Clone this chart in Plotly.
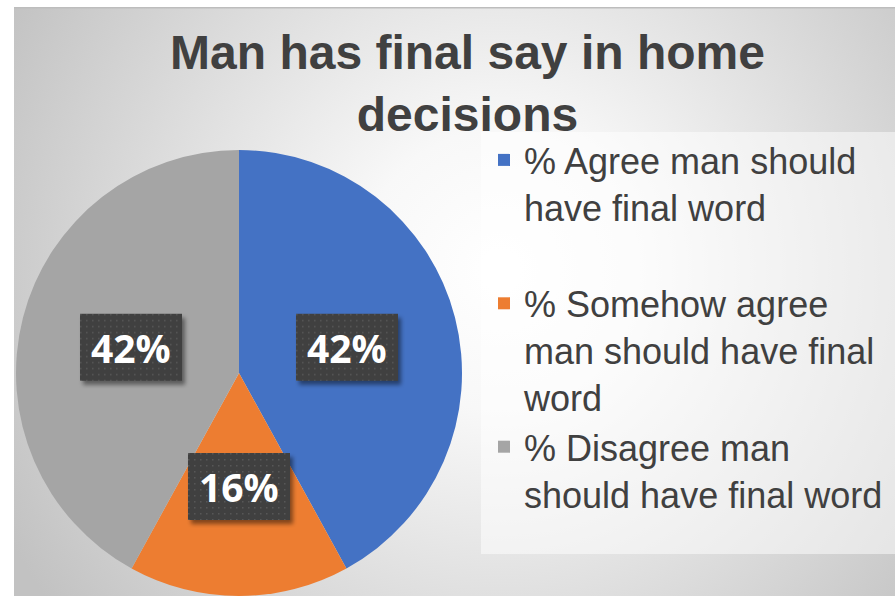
import base64
import math
import plotly.graph_objects as go

# ---- data -------------------------------------------------------------
chart_title = "Man has final say in home<br>decisions"
categories = [
    "% Agree man should<br>have final word<br> ",
    "% Somehow agree<br>man should have final<br>word",
    "% Disagree man<br>should have final word",
]
values = [42, 16, 42]
slice_colors = ["#4472C4", "#ED7D31", "#A5A5A5"]

# ---- page geometry ----------------------------------------------------
W, H = 895, 596
PIE_LEFT, PIE_RIGHT, PIE_TOP, PIE_BOTTOM = 15, 463, 150, 596
TEXT_COLOR = "#404040"


def svg_uri(svg: str) -> str:
    return "data:image/svg+xml;base64," + base64.b64encode(svg.encode()).decode()


# chart-area fill: radial grey gradient with a thin top rule
background_svg = f"""<svg xmlns="http://www.w3.org/2000/svg" width="{W}" height="{H}"
 viewBox="0 0 {W} {H}" preserveAspectRatio="none">
<defs><radialGradient id="g" gradientUnits="userSpaceOnUse" cx="500" cy="270" r="560">
<stop offset="0" stop-color="#ffffff"/><stop offset="0.25" stop-color="#f8f8f8"/>
<stop offset="1" stop-color="#c2c2c2"/></radialGradient></defs>
<rect x="0" y="0" width="{W}" height="{H}" fill="#ffffff"/>
<rect x="14" y="7" width="{W - 14}" height="{H - 7}" fill="url(#g)"/>
<rect x="14" y="7" width="{W - 14}" height="1.5" fill="#bdbdbd"/>
</svg>"""

# dark data-label plate with a dotted fill and a soft drop shadow
BOX_W, BOX_H, PAD = 102, 67, 8
IMG_W, IMG_H = BOX_W + 2 * PAD, BOX_H + 2 * PAD
label_box_svg = f"""<svg xmlns="http://www.w3.org/2000/svg" width="{IMG_W}" height="{IMG_H}"
 viewBox="0 0 {IMG_W} {IMG_H}" preserveAspectRatio="none">
<defs>
<filter id="s" x="-20%" y="-20%" width="140%" height="140%"><feGaussianBlur stdDeviation="2"/></filter>
<pattern id="d" width="6" height="6" patternUnits="userSpaceOnUse">
<rect width="6" height="6" fill="#404040"/><rect x="2" y="2" width="1.5" height="1.5" fill="#575757"/>
</pattern></defs>
<rect x="{PAD + 3}" y="{PAD + 4}" width="{BOX_W}" height="{BOX_H}" fill="#000" fill-opacity="0.45" filter="url(#s)"/>
<rect x="{PAD}" y="{PAD}" width="{BOX_W}" height="{BOX_H}" fill="url(#d)"/>
</svg>"""

fig = go.Figure(
    go.Pie(
        labels=categories,
        values=values,
        marker=dict(colors=slice_colors, line=dict(width=0)),
        sort=False,
        direction="clockwise",
        rotation=0,
        textinfo="none",
        hoverinfo="label+percent",
        domain=dict(
            x=[PIE_LEFT / W, PIE_RIGHT / W],
            y=[1 - PIE_BOTTOM / H, 1 - PIE_TOP / H],
        ),
    )
)

# data labels: placed halfway out along each slice's mid-angle
cx = (PIE_LEFT + PIE_RIGHT) / 2
cy = (PIE_TOP + PIE_BOTTOM) / 2
radius = min(PIE_RIGHT - PIE_LEFT, PIE_BOTTOM - PIE_TOP) / 2
total = sum(values)
images = [
    dict(
        source=svg_uri(background_svg), xref="paper", yref="paper",
        x=0, y=1, sizex=1, sizey=1, xanchor="left", yanchor="top",
        sizing="stretch", layer="below",
    )
]
annotations = []
cum = 0
for v in values:
    theta = 2 * math.pi * (cum + v / 2) / total
    cum += v
    px = cx + 0.5 * radius * math.sin(theta)
    py = cy - 0.5 * radius * math.cos(theta) + 2
    xp, yp = px / W, 1 - py / H
    images.append(
        dict(
            source=svg_uri(label_box_svg), xref="paper", yref="paper",
            x=xp, y=yp, sizex=IMG_W / W, sizey=IMG_H / H,
            xanchor="center", yanchor="middle", sizing="stretch", layer="above",
        )
    )
    annotations.append(
        dict(
            text=f"<b>{round(100 * v / total)}%</b>", x=xp, y=yp,
            xref="paper", yref="paper", showarrow=False,
            xanchor="center", yanchor="middle",
            font=dict(family="Open Sans", size=39, color="#ffffff"),
        )
    )

fig.update_layout(
    width=W,
    height=H,
    margin=dict(l=0, r=0, t=0, b=0),
    paper_bgcolor="#ffffff",
    title=dict(
        text=f"<b>{chart_title}</b>",
        x=467.5 / W, xanchor="center",
        y=1 - 69 / H, yanchor="top", yref="container",
        font=dict(family="Liberation Sans, Arial", size=48, color=TEXT_COLOR),
    ),
    legend=dict(
        x=484 / W, y=1 - 130 / H, xanchor="left", yanchor="top",
        bgcolor="rgba(0,0,0,0)", valign="top",
        font=dict(family="Liberation Sans, Arial", size=36, color=TEXT_COLOR),
    ),
    shapes=[
        dict(
            type="rect", xref="paper", yref="paper",
            x0=481 / W, x1=1, y0=1 - 554 / H, y1=1 - 132 / H,
            fillcolor="rgba(255,255,255,0.5)", line=dict(width=0), layer="below",
        )
    ],
    images=images,
    annotations=annotations,
)

fig.write_html("out.html")
